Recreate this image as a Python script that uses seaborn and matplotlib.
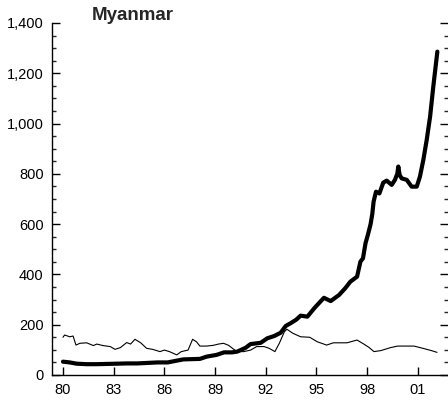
import pandas as pd
import numpy as np
import seaborn as sns
import matplotlib.pyplot as plt
import matplotlib.ticker as mtick

sns.set_style("ticks")
plt.rcParams["font.family"] = ["Liberation Sans", "DejaVu Sans"]

# thick series
thick_year = [
    1980.0, 1980.4, 1980.8, 1981.4, 1982.0, 1982.6, 1983.2, 1983.8, 1984.4,
    1985.0, 1985.6, 1986.2, 1986.73, 1987.12, 1987.6, 1988.1, 1988.5, 1989.09,
    1989.53, 1990.0, 1990.31, 1990.8, 1991.1, 1991.7, 1992.09, 1992.5, 1992.88,
    1993.18, 1993.47, 1993.8, 1994.06, 1994.46, 1994.9, 1995.44, 1995.84,
    1996.33, 1996.7, 1997.0, 1997.4, 1997.6, 1997.75, 1997.9, 1998.05, 1998.2,
    1998.3, 1998.38, 1998.52, 1998.72, 1998.95, 1999.15, 1999.45, 1999.64,
    1999.78, 1999.84, 1999.92, 2000.04, 2000.34, 2000.63, 2000.93, 2001.12,
    2001.32, 2001.52, 2001.72, 2001.91, 2002.15,
]
thick_val = [
    53, 50, 45, 43, 43, 44, 45, 46, 46,
    48, 50, 50, 57, 62, 63, 64, 73, 80,
    90, 90, 93, 108, 123, 128, 146, 155, 168,
    195, 206, 220, 236, 232, 268, 307, 294,
    318, 345, 371, 391, 451, 464, 524, 560, 600,
    640, 690, 729, 722, 765, 773, 756, 776,
    800, 829, 795, 782, 776, 749, 749, 789,
    855, 935, 1027, 1147, 1286,
]

# thin series
thin_year = [
    1980.0, 1980.1, 1980.4, 1980.6, 1980.77, 1981.0, 1981.4, 1981.8, 1982.0,
    1982.37, 1982.8, 1983.08, 1983.4, 1983.77, 1984.0, 1984.26, 1984.6,
    1984.95, 1985.3, 1985.74, 1986.0, 1986.3, 1986.73, 1987.0, 1987.4,
    1987.67, 1987.9, 1988.1, 1988.5, 1988.9, 1989.2, 1989.5, 1989.8, 1990.28,
    1990.7, 1991.1, 1991.46, 1991.9, 1992.2, 1992.54, 1992.8, 1993.1, 1993.25,
    1993.6, 1994.06, 1994.6, 1995.05, 1995.6, 1996.0, 1996.8, 1997.4, 1997.8,
    1998.1, 1998.4, 1998.8, 1999.39, 1999.8, 2000.3, 2000.77, 2001.3, 2001.8,
    2002.13,
]
thin_val = [
    150, 159, 152, 155, 119, 126, 128, 117, 123,
    117, 113, 102, 109, 129, 123, 142, 128,
    106, 102, 93, 99, 93, 80, 93, 99,
    142, 132, 115, 115, 118, 123, 126, 118, 93,
    93, 99, 113, 113, 106, 93, 126, 172, 182,
    166, 152, 150, 132, 119, 128, 128, 139, 123,
    110, 93, 97, 109, 115, 115, 115, 106, 97,
    90,
]

xtick_years = [1980, 1983, 1986, 1989, 1992, 1995, 1998, 2001]
xtick_labels = ["80", "83", "86", "89", "92", "95", "98", "01"]


def main():
    thick = pd.DataFrame({"year": thick_year, "value": thick_val})
    thin = pd.DataFrame({"year": thin_year, "value": thin_val})

    fig = plt.figure(figsize=(4.48, 4.03), dpi=100)
    ax = fig.add_axes([0.116, 0.0695, 0.884, 0.8735])

    sns.lineplot(x="year", y="value", data=thin, color="black", lw=0.8, ax=ax)
    sns.lineplot(x="year", y="value", data=thick, color="black", lw=3.0, ax=ax)

    ax.set_xlim(1979.35, 2002.78)
    ax.set_ylim(0, 1400)
    ax.set_xticks(xtick_years)
    ax.set_xticklabels(xtick_labels)
    ax.yaxis.set_major_locator(mtick.MultipleLocator(200))
    ax.yaxis.set_minor_locator(mtick.MultipleLocator(50))
    ax.yaxis.set_major_formatter(mtick.StrMethodFormatter("{x:,.0f}"))
    ax.set_xlabel("")
    ax.set_ylabel("")

    for side in ["top", "right"]:
        ax.spines[side].set_visible(False)
    for side in ["left", "bottom"]:
        ax.spines[side].set_linewidth(1.0)
        ax.spines[side].set_color("black")

    ax.tick_params(axis="both", which="major", direction="in", length=6,
                   width=1, labelsize=10.5, colors="black", pad=6)
    ax.tick_params(axis="y", which="major", right=True, length=6)
    ax.tick_params(axis="y", which="minor", direction="in", length=3,
                   width=1, right=True, left=True)

    fig.text(0.297, 0.962, "Myanmar", fontsize=13.5, fontweight="bold",
             ha="center", va="center")

    fig.savefig("out.png", dpi=100)


if __name__ == "__main__":
    main()
